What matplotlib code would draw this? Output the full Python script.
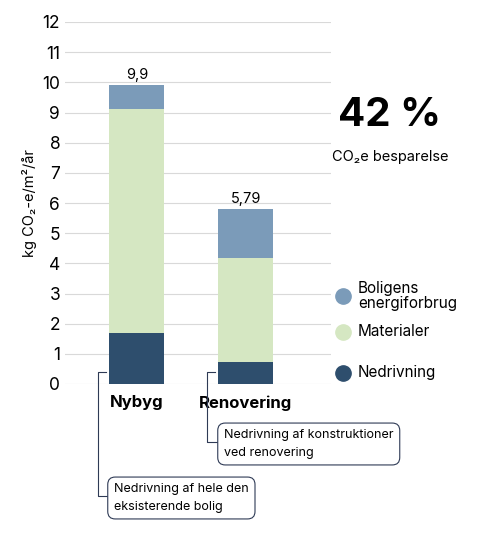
import matplotlib.pyplot as plt
from matplotlib.lines import Line2D

plt.rcParams['font.family'] = ['Inter', 'DejaVu Sans']

categories = ["Nybyg", "Renovering"]
nedrivning = [1.7, 0.73]
materialer = [7.4, 3.45]
energi = [0.8, 1.61]
totals = ["9,9", "5,79"]

c_energi = "#7b9bb9"
c_mat = "#d5e7c2"
c_ned = "#2e4e6d"

W, H = 480, 534
fig = plt.figure(figsize=(4.8, 5.34), dpi=100)
ax = fig.add_axes([65 / W, 1 - 384 / H, 266 / W, 362 / H])

xs = [0.27, 0.68]
bw = 0.207
b2 = [a + b for a, b in zip(nedrivning, materialer)]
ax.bar(xs, nedrivning, bw, color=c_ned, zorder=3)
ax.bar(xs, materialer, bw, bottom=nedrivning, color=c_mat, zorder=3)
ax.bar(xs, energi, bw, bottom=b2, color=c_energi, zorder=3)
for x, b, e, t in zip(xs, b2, energi, totals):
    ax.text(x, b + e + 0.12, t, ha="center", va="bottom", fontsize=10.5)

ax.set_xlim(0, 1)
ax.set_ylim(0, 12)
ax.set_yticks(range(13))
ax.tick_params(axis="y", labelsize=12.5, length=0)
ax.set_xticks(xs)
ax.set_xticklabels(categories, fontsize=12, fontweight="bold")
ax.tick_params(axis="x", length=0, pad=8)
ax.grid(axis="y", color="#d9d9d9", linewidth=0.8, zorder=0)
for s in ax.spines.values():
    s.set_visible(False)
ax.set_ylabel("kg CO₂-e/m²/år", fontsize=10.5)


def fx(px):
    return px / W


def fy(py):
    return 1 - py / H


fig.text(fx(390), fy(115), "42 %", fontsize=29, fontweight="bold", ha="center", va="center")
fig.text(fx(390), fy(157), "CO₂e besparelse", fontsize=10.5, ha="center", va="center")

for py, lab in [(296, "Boligens\nenergiforbrug"), (332, "Materialer"), (373, "Nedrivning")]:
    col = {"Materialer": c_mat, "Nedrivning": c_ned}.get(lab, c_energi)
    fig.add_artist(Line2D([fx(343)], [fy(py)], marker="o", markersize=11, color=col, linestyle=""))
    fig.text(fx(358), fy(py), lab, fontsize=11, va="center", linespacing=1.0)

lc = "#2e3a55"
fig.add_artist(Line2D([fx(106), fx(98), fx(98), fx(108)], [fy(372), fy(372), fy(496), fy(496)], color=lc, lw=0.8))
fig.add_artist(Line2D([fx(215), fx(207), fx(207), fx(218)], [fy(372), fy(372), fy(442), fy(442)], color=lc, lw=0.8))
bbox = dict(boxstyle="round,pad=0.5,rounding_size=0.6", fc="white", ec=lc, lw=0.8)
fig.text(fx(114), fy(498), "Nedrivning af hele den\neksisterende bolig", fontsize=9,
         va="center", ha="left", bbox=bbox, linespacing=1.6)
fig.text(fx(224), fy(444), "Nedrivning af konstruktioner\nved renovering", fontsize=9,
         va="center", ha="left", bbox=bbox, linespacing=1.6)

fig.savefig("out.png", dpi=100)
